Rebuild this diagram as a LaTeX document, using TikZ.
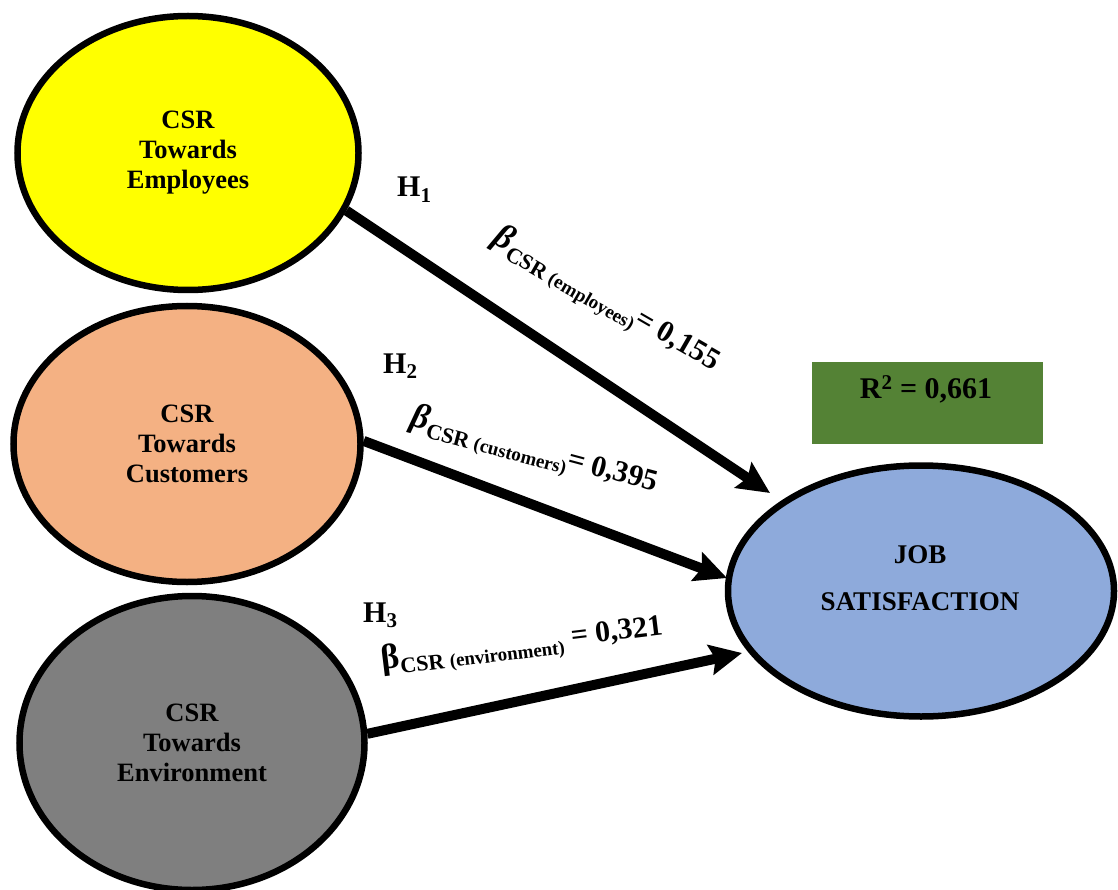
\documentclass[tikz,border=0pt]{standalone}
\usepackage{fontspec}
\setmainfont{Liberation Serif}
\usetikzlibrary{shapes.geometric,arrows.meta}
\definecolor{cyellow}{HTML}{FFFF00}
\definecolor{corange}{HTML}{F4B183}
\definecolor{cgray}{HTML}{7F7F7F}
\definecolor{cblue}{HTML}{8EAADB}
\definecolor{cgreen}{HTML}{548235}
\begin{document}
\begin{tikzpicture}[x=1pt,y=-1pt,
  construct/.style={ellipse, draw=black, line width=6.5pt, inner sep=0pt, align=center,
    font=\fontsize{26.5}{30}\selectfont\bfseries},
  effect/.style={draw=black, line width=10pt, -{Stealth[length=32pt,width=30pt,inset=5pt]}},
  hyp/.style={anchor=base west, inner sep=0pt, font=\fontsize{30}{30}\selectfont\bfseries},
  coef/.style={inner sep=0pt, font=\bfseries},
  plain/.style={inner sep=0pt, align=center}
]
\useasboundingbox (0,0) rectangle (1118,890);

% constructs
\node[construct, fill=cyellow, minimum width=341pt, minimum height=274pt] (emp) at (188,153) {CSR\\Towards\\Employees};
\node[construct, fill=corange, minimum width=347pt, minimum height=276pt] (cus) at (187,444) {CSR\\Towards\\Customers};
\node[construct, fill=cgray, minimum width=345pt, minimum height=294pt] (env) at (192,743) {CSR\\Towards\\Environment};
\node[construct, fill=cblue, minimum width=386pt, minimum height=251pt] (js) at (921,591) {};
\node[plain, font=\fontsize{27}{47}\selectfont\bfseries] (jstext) at (920,578) {JOB\\SATISFACTION};

% R squared box
\node[fill=cgreen, draw=cgreen, minimum width=230pt, minimum height=81pt, inner sep=0pt] (rbox) at (927,402.5) {};
\node[plain, font=\fontsize{30}{30}\selectfont\bfseries] (r2) at (926,389) {R\textsuperscript{2} = 0,661};

% arrow tips
\coordinate (t1) at (770,493);
\coordinate (t2) at (727,578);
\coordinate (t3) at (742,653);

\draw[effect] (emp.-20) -- (t1);
\draw[effect] (cus.1) -- (t2);
\draw[effect] (env.3) -- (t3);

% hypotheses
\node[hyp] (h1) at (397,197) {H\textsubscript{1}};
\node[hyp] (h2) at (383,373) {H\textsubscript{2}};
\node[hyp] (h3) at (363,622) {H\textsubscript{3}};

% coefficients
\node[coef, rotate=-30] (b1) at (606,301) {{\fontsize{35}{35}\selectfont\itshape β}\raisebox{-7pt}{\fontsize{22}{22}\selectfont CSR {\fontsize{19}{19}\selectfont(employees)}}{\fontsize{30}{30}\selectfont= 0,155}};
\node[coef, rotate=-15] (b2) at (534,452) {{\fontsize{35}{35}\selectfont\itshape β}\raisebox{-7pt}{\fontsize{22}{22}\selectfont CSR {\fontsize{19}{19}\selectfont(customers)}}{\fontsize{30}{30}\selectfont= 0,395}};
\node[coef, rotate=7] (b3) at (522,645) {{\fontsize{35}{35}\selectfont β}\raisebox{-7pt}{\fontsize{22}{22}\selectfont CSR {\fontsize{19}{19}\selectfont(environment)}}{\fontsize{30}{30}\selectfont{} = 0,321}};
\end{tikzpicture}
\end{document}
